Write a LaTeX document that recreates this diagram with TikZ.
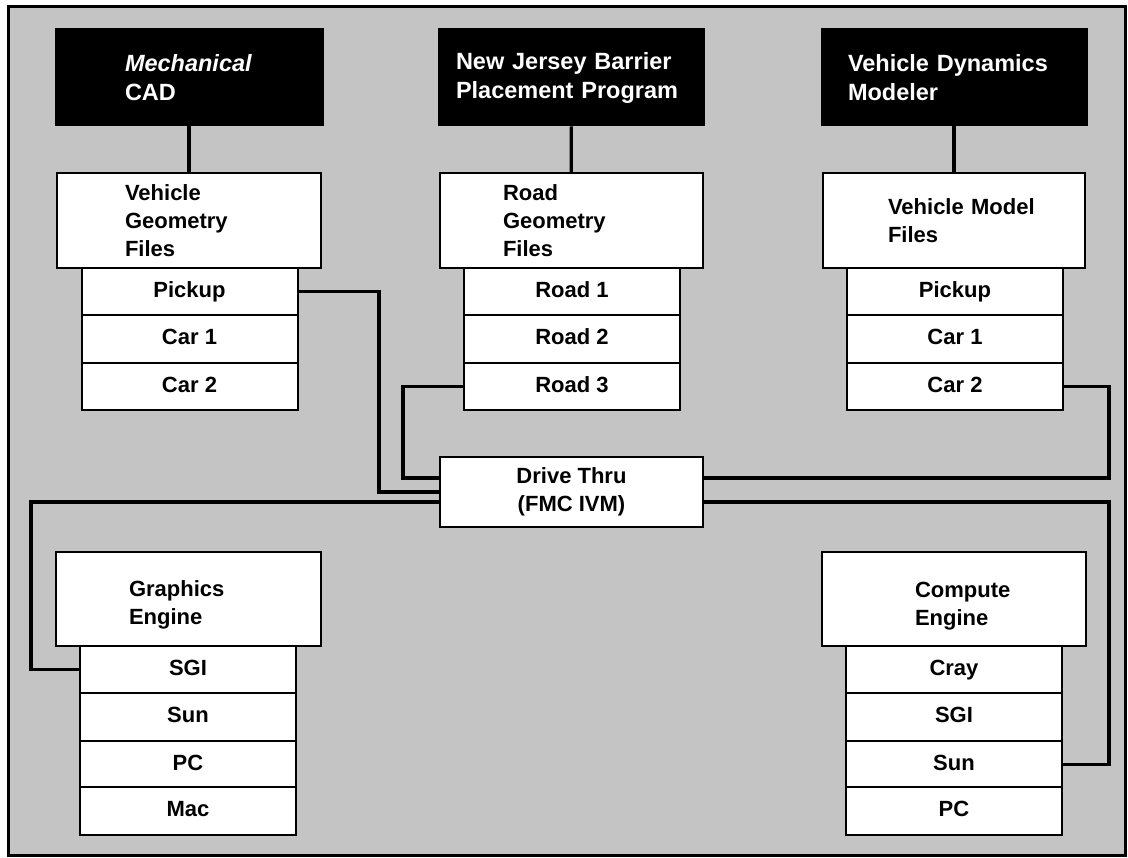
\documentclass[tikz,border=0pt]{standalone}
\usepackage{fontspec}
\setmainfont{Liberation Sans}
\usetikzlibrary{calc}
\definecolor{halftone}{RGB}{196,196,196}
\begin{document}
\begin{tikzpicture}[x=1pt,y=-1pt,
  blackbox/.style={draw=black, fill=black, text=white, line width=1pt, minimum height=97pt,
    inner sep=0pt, align=left, font=\fontsize{23.5}{29}\selectfont\bfseries},
  filebox/.style={draw=black, fill=white, line width=2pt, inner sep=0pt, align=left,
    font=\fontsize{22}{28}\selectfont\bfseries},
  rowbox/.style={draw=black, fill=white, line width=2pt, minimum width=216pt,
    minimum height=47.3pt, inner sep=0pt, text height=16pt, text depth=4.5pt,
    font=\fontsize{22}{26}\selectfont\bfseries},
  link/.style={draw=black, line width=3.2pt}]

\useasboundingbox (0,0) rectangle (1128,858);
\fill[white] (0,0) rectangle (1128,858);
\fill[halftone] (8,7) rectangle (1125,855);
\draw[line width=3pt] (8,7) rectangle (1125,855);

% top programs
\node[blackbox, minimum width=268pt, text width=128pt] (mcad) at (189,77.5) {{\itshape Mechanical}\\CAD};
\node[blackbox, minimum width=266pt, text width=230pt] (njb) at (571,77.5) {New~Jersey~Barrier\\Placement~Program};
\node[blackbox, minimum width=266pt, text width=212pt] (vdm) at (954,77.5) {Vehicle~Dynamics\\Modeler};

% file headers
\node[filebox, minimum width=264pt, minimum height=95pt, text width=128pt] (vgf) at (189,220.5) {Vehicle\\Geometry\\Files};
\node[filebox, minimum width=263pt, minimum height=95pt, text width=137pt] (rgf) at (571.5,220.5) {Road\\Geometry\\Files};
\node[filebox, minimum width=262pt, minimum height=95pt, text width=132pt] (vmf) at (954,220.5) {Vehicle~Model\\Files};

% connectors (drawn before rows so boxes sit on top)
\draw[link] (mcad) -- (vgf);
\draw[link] (njb) -- (rgf);
\draw[link] (vdm) -- (vmf);

% file rows
\node[rowbox] (vpick) at (189.5,291.7) {Pickup};
\node[rowbox] (vcar1) at (189.5,339) {Car 1};
\node[rowbox] (vcar2) at (189.5,386.3) {Car 2};

\node[rowbox] (road1) at (572,291.7) {Road 1};
\node[rowbox] (road2) at (572,339) {Road 2};
\node[rowbox] (road3) at (572,386.3) {Road 3};

\node[rowbox] (mpick) at (955,291.7) {Pickup};
\node[rowbox] (mcar1) at (955,339) {Car 1};
\node[rowbox] (mcar2) at (955,386.3) {Car 2};

% drive thru
\node[filebox, align=center, minimum width=263pt, minimum height=70pt] (drive) at (571.5,492) {Drive Thru\\(FMC IVM)};

% engines
\node[filebox, minimum width=265pt, minimum height=94pt, text width=119pt] (geng) at (188.5,599) {\rule{0pt}{27pt}Graphics\\Engine};
\node[rowbox] (gsgi) at (188,669.5) {SGI};
\node[rowbox] (gsun) at (188,717) {Sun};
\node[rowbox] (gpc) at (188,764.5) {PC};
\node[rowbox] (gmac) at (188,811) {Mac};

\node[filebox, minimum width=264pt, minimum height=94pt, text width=78pt] (ceng) at (954,599) {\rule{0pt}{29pt}Compute\\Engine};
\node[rowbox] (ccray) at (954,669.5) {Cray};
\node[rowbox] (csgi) at (954,717) {SGI};
\node[rowbox] (csun) at (954,764.5) {Sun};
\node[rowbox] (cpc) at (954,811) {PC};

% links to Drive Thru
\draw[link] (vpick.east) -| ($(drive.west)+(-60,0)$) -- (drive.west);
\draw[link] (road3.west) -| ($(drive.west)+(-36,-14)$) -- ($(drive.west)+(0,-14)$);
\draw[link] (mcar2.east) -| ($(drive.east)+(405,-14)$) -- ($(drive.east)+(0,-14)$);
\draw[link] ($(drive.west)+(0,10)$) -| ($(gsgi.west)+(-48,0)$) -- (gsgi.west);
\draw[link] ($(drive.east)+(0,10)$) -| ($(csun.east)+(46,0)$) -- (csun.east);
\end{tikzpicture}
\end{document}
